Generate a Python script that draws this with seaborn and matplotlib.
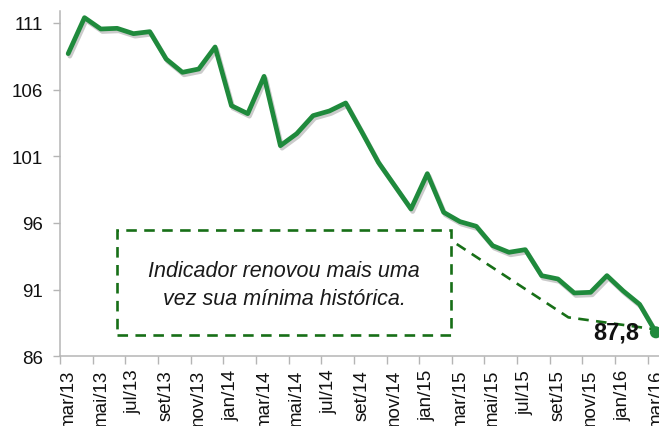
import numpy as np
import pandas as pd
import seaborn as sns
import matplotlib.pyplot as plt
from matplotlib import patheffects as pe
from matplotlib.patches import Rectangle

months = ['mar/13', 'abr/13', 'mai/13', 'jun/13', 'jul/13', 'ago/13', 'set/13', 'out/13',
          'nov/13', 'dez/13', 'jan/14', 'fev/14', 'mar/14', 'abr/14', 'mai/14', 'jun/14',
          'jul/14', 'ago/14', 'set/14', 'out/14', 'nov/14', 'dez/14', 'jan/15', 'fev/15',
          'mar/15', 'abr/15', 'mai/15', 'jun/15', 'jul/15', 'ago/15', 'set/15', 'out/15',
          'nov/15', 'dez/15', 'jan/16', 'fev/16', 'mar/16']
values = [108.7, 111.4, 110.55, 110.6, 110.2, 110.35, 108.3, 107.3,
          107.55, 109.2, 104.8, 104.2, 107.0, 101.8, 102.7, 104.05,
          104.4, 105.0, 102.8, 100.55, 98.8, 97.05, 99.7, 96.8,
          96.1, 95.75, 94.3, 93.8, 94.0, 92.05, 91.8, 90.75,
          90.8, 92.05, 90.9, 89.9, 87.8]
y_ticks = [86, 91, 96, 101, 106, 111]
last_label = '87,8'
note = 'Indicador renovou mais uma\nvez sua mínima histórica.'

GREEN = '#1f8a3c'
DARK_GREEN = '#176f17'
AXIS_GRAY = '#b5b5b5'

sns.set_style('white')
plt.rcParams['font.family'] = ['Liberation Sans', 'DejaVu Sans']

df = pd.DataFrame({'pos': np.arange(len(months)), 'mes': months, 'valor': values})

fig = plt.figure(figsize=(6.59, 4.27), dpi=100)
ax = fig.add_axes([60 / 659, 1 - 357.3 / 427, 599 / 659, (357.3 - 12) / 427])

sns.lineplot(data=df, x='pos', y='valor', ax=ax, color=GREEN, linewidth=3.4,
             solid_joinstyle='round', solid_capstyle='round', zorder=3)
ax.lines[0].set_path_effects([
    pe.SimpleLineShadow(offset=(1.2, -1.8), shadow_color='#8c8c8c', alpha=0.45),
    pe.Normal()])
sns.scatterplot(data=df.iloc[[-1]], x='pos', y='valor', ax=ax, color=GREEN, s=75,
                edgecolor='none', zorder=5, clip_on=False, legend=False)

ax.set_xlim(-0.5, 36.19)
ax.set_ylim(86, 111.9)
ax.set_xlabel('')
ax.set_ylabel('')

ax.set_yticks(y_ticks)
ax.set_yticklabels([str(v) for v in y_ticks])
ax.tick_params(axis='y', length=5, width=1, color=AXIS_GRAY, pad=7,
               labelsize=13.5, labelcolor='#111111', left=True)

ax.set_xticks(df['pos'][::2])
ax.set_xticklabels(df['mes'][::2], rotation=90)
ax.set_xticks(df['pos'][::2] - 0.5, minor=True)
ax.tick_params(axis='x', which='major', length=0, pad=9, labelsize=13.5,
               labelcolor='#111111')
ax.tick_params(axis='x', which='minor', length=6, width=1, color=AXIS_GRAY, bottom=True)
for lab in ax.get_xticklabels():
    lab.set_va('top')
    lab.set_ha('center')

for s in ['top', 'right']:
    ax.spines[s].set_visible(False)
for s in ['left', 'bottom']:
    ax.spines[s].set_color(AXIS_GRAY)
    ax.spines[s].set_linewidth(1.1)

# annotation
ax.text(df['pos'].iloc[-1] - 1.03, values[-1] + 0.02, last_label, ha='right', va='center',
        fontsize=17, fontweight='bold', color='#111111', zorder=6)

ax.add_patch(Rectangle((3.0, 87.6), 20.43, 7.87, fill=False, edgecolor=DARK_GREEN,
                       linewidth=1.9, linestyle=(0, (4, 2.8)), zorder=2))
ax.text(13.23, 91.36, note, ha='center', va='center', style='italic', fontsize=15.5,
        linespacing=1.45, color='#1a1a1a', zorder=4)
ax.plot([23.8, 30.64, df['pos'].iloc[-1] - 0.2], [94.42, 88.92, values[-1] + 0.25],
        color=DARK_GREEN, linewidth=1.9, linestyle=(0, (4, 2.8)), zorder=2)

fig.savefig('out.png', dpi=100)
